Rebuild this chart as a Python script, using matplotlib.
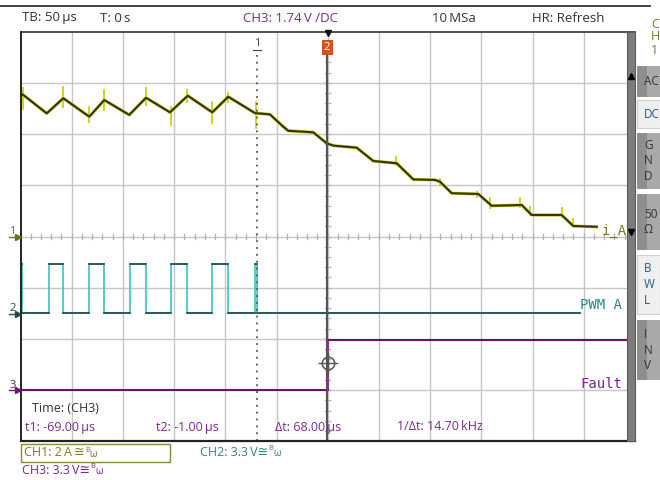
import matplotlib
matplotlib.use("Agg")
import matplotlib.pyplot as plt
from matplotlib.patches import Rectangle
from matplotlib.lines import Line2D

W, H = 660, 480

# ---------------- data ----------------
TB_US = 50.0            # µs / div
CH1_SCALE, CH1_POS = 2.0, 0.0     # A / div, div
CH2_SCALE, CH2_POS = 3.3, -1.5    # V / div, div
CH3_SCALE, CH3_POS = 3.3, -3.0    # V / div, div
T1_US, T2_US = -69.0, -1.0
TRIG_LEVEL_V = 1.74

# CH1 : phase current i_A (A) vs time (µs)
ch1_t = [-300.0, -297.9, -274.4, -258.2, -232.8, -218.2, -193.8, -177.4, -154.0,
         -136.7, -112.7, -97.1, -71.0, -56.4, -43.4, -38.5, -14.1, -1.0, 5.5,
         28.3, 44.5, 67.4, 83.6, 104.8, 109.7, 121.1, 147.1, 160.2, 189.5,
         199.2, 228.5, 239.8, 262.7]
ch1_i = [5.50, 5.55, 4.81, 5.40, 4.68, 5.33, 4.75, 5.42, 4.85,
         5.50, 4.85, 5.46, 4.82, 4.77, 4.29, 4.13, 4.07, 3.64, 3.55,
         3.47, 2.95, 2.86, 2.23, 2.21, 2.14, 1.69, 1.66, 1.20, 1.23,
         0.84, 0.84, 0.41, 0.38]
# switching glitches on CH1
spike_t  = [-298.0, -258.2, -232.8, -218.2, -177.7, -153.0, -137.7, -112.7, -97.7,
            -70.0, 67.0, 109.7, 145.5, 158.7, 188.0, 197.6, 228.5, 239.3]
spike_lo = [5.00, 5.07, 4.48, 4.94, 5.14, 4.36, 5.27, 4.42, 5.27,
            4.23, 2.79, 2.01, 1.55, 1.10, 1.16, 0.84, 0.75, 0.41]
spike_hi = [5.80, 5.85, 5.07, 5.72, 5.79, 5.07, 5.72, 5.27, 5.60,
            5.27, 3.12, 2.23, 1.75, 1.49, 1.49, 1.16, 1.10, 0.67]

# CH2 : PWM A (V), step changes
pwm_t = [-300.0, -298.5, -271.9, -258.2, -232.8, -218.2, -193.1, -177.7, -153.0,
         -137.7, -112.7, -97.7, -71.0, -69.0, 246.4]
pwm_v = [3.2, 0.0, 3.2, 0.0, 3.2, 0.0, 3.2, 0.0, 3.2,
         0.0, 3.2, 0.0, 3.2, 0.0, 0.0]

# CH3 : Fault (V), step changes
fault_t = [-300.0, 0.3, 300.0]
fault_v = [0.0, 3.2, 3.2]

header = ["TB: 50\u2009µs", "T: 0\u2009s", "CH3: 1.74\u2009V \u2215DC", "10\u2009MSa", "HR: Refresh"]
meas = ["Time: (CH3)", "t1: -69.00\u2009µs", "t2: -1.00\u2009µs", "\u0394t: 68.00\u2009µs",
        "1/\u0394t: 14.70\u2009kHz"]
ch_info = ["CH1: 2\u2009A\u2009\u2245", "CH2: 3.3\u2009V\u2245", "CH3: 3.3\u2009V\u2245"]
buttons = ["AC", "DC", "G\nN\nD", "50\n\u03a9", "B\nW\nL", "I\nN\nV"]

# ---------------- style ----------------
C_OLIVE = "#7a7a22"
C_TEAL = "#2f8585"
C_PURP = "#7a2a8a"
C_TXT = "#333333"
FONT = ["Open Sans", "DejaVu Sans"]
MONO = ["DejaVu Sans Mono"]

fig = plt.figure(figsize=(W / 100, H / 100), dpi=100)
fig.patch.set_facecolor("white")

X0, X1 = 20.5, 634.9
Y0, Y1 = 31.7, 441.3
ax = fig.add_axes([X0 / W, 1 - Y1 / H, (X1 - X0) / W, (Y1 - Y0) / H])
ax.set_xlim(-6, 6)
ax.set_ylim(-4, 4)
ax.set_xticks([]); ax.set_yticks([])
for s in ax.spines.values():
    s.set_visible(False)

def px(x, y):
    return (x / W, 1 - y / H)

def ft(x, y, s, **kw):
    kw.setdefault("family", FONT)
    kw.setdefault("va", "center")
    return fig.text(x / W, 1 - y / H, s, **kw)

# grid
for k in range(-5, 6):
    ax.axvline(k, color="#c6c6c6", lw=1.0, zorder=1)
for k in range(-3, 4):
    ax.axhline(k, color="#c6c6c6", lw=1.0, zorder=1)
# center ticks
for k in range(-30, 31):
    xv = k / 5
    ax.plot([xv, xv], [-0.05, 0.05], color="#b0b0b0", lw=0.9, zorder=1)
for k in range(-20, 21):
    yv = k / 5
    ax.plot([-0.05, 0.05], [yv, yv], color="#b0b0b0", lw=0.9, zorder=1)

# frame
ax.plot([-6, -6], [-4, 4], color="#222222", lw=1.4, zorder=6, clip_on=False)
ax.plot([-6, 6], [4, 4], color="#333333", lw=1.2, zorder=6, clip_on=False)
ax.plot([-6, 6], [-4, -4], color="#222222", lw=1.6, zorder=6, clip_on=False)

# ---------- traces ----------
def tx(t):
    return [v / TB_US for v in t]

c1x = tx(ch1_t)
c1y = [v / CH1_SCALE + CH1_POS for v in ch1_i]
ax.plot(c1x, c1y, color="#cccc22", lw=2.3, zorder=3, solid_joinstyle="round")
for t, lo, hi in zip(spike_t, spike_lo, spike_hi):
    ax.plot([t / TB_US] * 2, [lo / CH1_SCALE + CH1_POS, hi / CH1_SCALE + CH1_POS],
            color="#cfcf10", lw=1.3, zorder=3)
ax.plot(c1x, c1y, color="#34340e", lw=1.5, zorder=4)

c2x = tx(pwm_t)
c2y = [v / CH2_SCALE + CH2_POS for v in pwm_v]
ax.step(c2x, c2y, where="post", color="#4cc6c6", lw=1.3, zorder=3)
for i in range(len(c2x) - 1):
    ax.plot([c2x[i], c2x[i + 1]], [c2y[i], c2y[i]], color="#1d4a4a", lw=1.2, zorder=4)

c3x = tx(fault_t)
c3y = [v / CH3_SCALE + CH3_POS for v in fault_v]
ax.step(c3x, c3y, where="post", color="#9a2a9a", lw=1.5, zorder=3)
for i in range(len(c3x) - 1):
    ax.plot([c3x[i], c3x[i + 1]], [c3y[i], c3y[i]], color="#5a0f5a", lw=1.1, zorder=4)

# cursors
ax.plot([T1_US / TB_US] * 2, [-4, 3.55], color="#555555", lw=1.3,
        linestyle=(0, (1, 2.8)), zorder=5)
ax.plot([T2_US / TB_US] * 2, [-4, 3.6], color="#555555", lw=1.5, zorder=5)
# trigger crosshair on CH3
ty = TRIG_LEVEL_V / CH3_SCALE + CH3_POS
ax.plot([0], [ty], marker="o", ms=9, mfc="none", mec="#555555", mew=1.1, zorder=6)
ax.plot([0], [ty], marker="+", ms=15, mec="#555555", mew=1.0, zorder=6)
ax.plot([5.93], [ty], marker="o", ms=2.5, color="#6a1a6a", zorder=6)

# trace labels
ft(580, 305, "PWM A", color=C_TEAL, size=10, family=MONO)
ft(580, 384, "Fault", color=C_PURP, size=10, family=MONO)
ft(602, 231, "i_A", color=C_OLIVE, size=10, family=MONO)

# channel reference markers (left)
for yv, lab, col in [(236.5, "1", "#707020"), (313.5, "2", "#1e4a50"), (390.1, "3", "#6a1a6a")]:
    ft(9.5, yv - 5, lab, color=col, size=8)
    fig.add_artist(Line2D([9 / W, 17 / W], [1 - yv / H] * 2, color=col, lw=1.0))
    fig.add_artist(Line2D([18 / W], [1 - yv / H], marker=">", ms=4, color=col))

# right gray bar
fig.add_artist(Rectangle(px(626.5, Y1), 8.5 / W, (Y1 - Y0) / H, facecolor="#7c7c7c",
                         edgecolor="#5a5a5a", lw=0.8, zorder=10))
fig.add_artist(Line2D([630.5 / W], [1 - 76 / H], marker="^", ms=4.5, color="black", zorder=11))
fig.add_artist(Line2D([630.5 / W], [1 - 232 / H], marker="v", ms=4.5, color="black", zorder=11))

# top markers
fig.add_artist(Line2D([327.7 / W], [1 - 33 / H], marker="v", ms=4.5, color="#111111", zorder=11))
ft(257, 44, "1", color="#444444", size=8, ha="center")
fig.add_artist(Line2D([253 / W, 261 / W], [1 - 50 / H] * 2, color="#444444", lw=0.8))
fig.add_artist(Rectangle(px(321.5, 54), 10 / W, 14 / H, facecolor="#d9531e",
                         edgecolor="#c04010", lw=0.6, zorder=11))
ft(326.5, 47, "2", color="white", size=8, ha="center", zorder=12)

# header
fig.add_artist(Line2D([0, 650 / W], [1 - 6 / H] * 2, color="#222222", lw=1.2))
hx = [22, 100, 243, 432, 532]
for x, s in zip(hx, header):
    ft(x, 18, s, color=C_PURP if s.startswith("CH3") else C_TXT, size=9.5)

# measurement texts inside screen
ft(32, 408, meas[0], color=C_TXT, size=9)
for x, s in zip([25, 156, 275, 397], meas[1:]):
    ft(x, 427, s, color=C_PURP, size=9)

# channel info row
fig.add_artist(Rectangle(px(21, 462), 149 / W, 18 / H, facecolor="none",
                         edgecolor="#8a8a30", lw=1.0))
fig.canvas.draw()
renderer = fig.canvas.get_renderer()
for (x, y, col), s in zip([(24, 453, C_OLIVE), (200, 452, C_TEAL), (22, 470, C_PURP)], ch_info):
    t = ft(x, y, s, color=col, size=9)
    bb = t.get_window_extent(renderer)
    xe = bb.x1 + 0.5
    ft(xe, y - 3, "B", color=col, size=5.5)
    ft(xe + 4.5, y + 1.5, "\u03c9", color=col, size=7)

# right side panel
ft(651, 24, "C", color=C_OLIVE, size=9)
ft(651, 37, "H", color=C_OLIVE, size=9)
ft(651, 50, "1", color=C_OLIVE, size=9)
bspec = [(66, 97, True), (100, 128, False), (133, 189, True), (194, 250, True),
         (255, 314, False), (320, 380, True)]
for (ya, yb, dark), lab in zip(bspec, buttons):
    if dark:
        fig.add_artist(Rectangle(px(637, yb), 10 / W, (yb - ya) / H, facecolor="#8e8e8e",
                                 edgecolor="none", zorder=2))
        fig.add_artist(Rectangle(px(647, yb), 13 / W, (yb - ya) / H, facecolor="#a9a9a9",
                                 edgecolor="none", zorder=2))
        col = "#333333"
    else:
        fig.add_artist(Rectangle(px(637, yb), 23 / W, (yb - ya) / H, facecolor="#efefef",
                                 edgecolor="#cfcfcf", lw=0.8, zorder=2))
        col = "#2a5a8a"
    ft(644, (ya + yb) / 2, lab, color=col, size=8.5, linespacing=1.25, zorder=3)

fig.savefig("out.png", dpi=100)
